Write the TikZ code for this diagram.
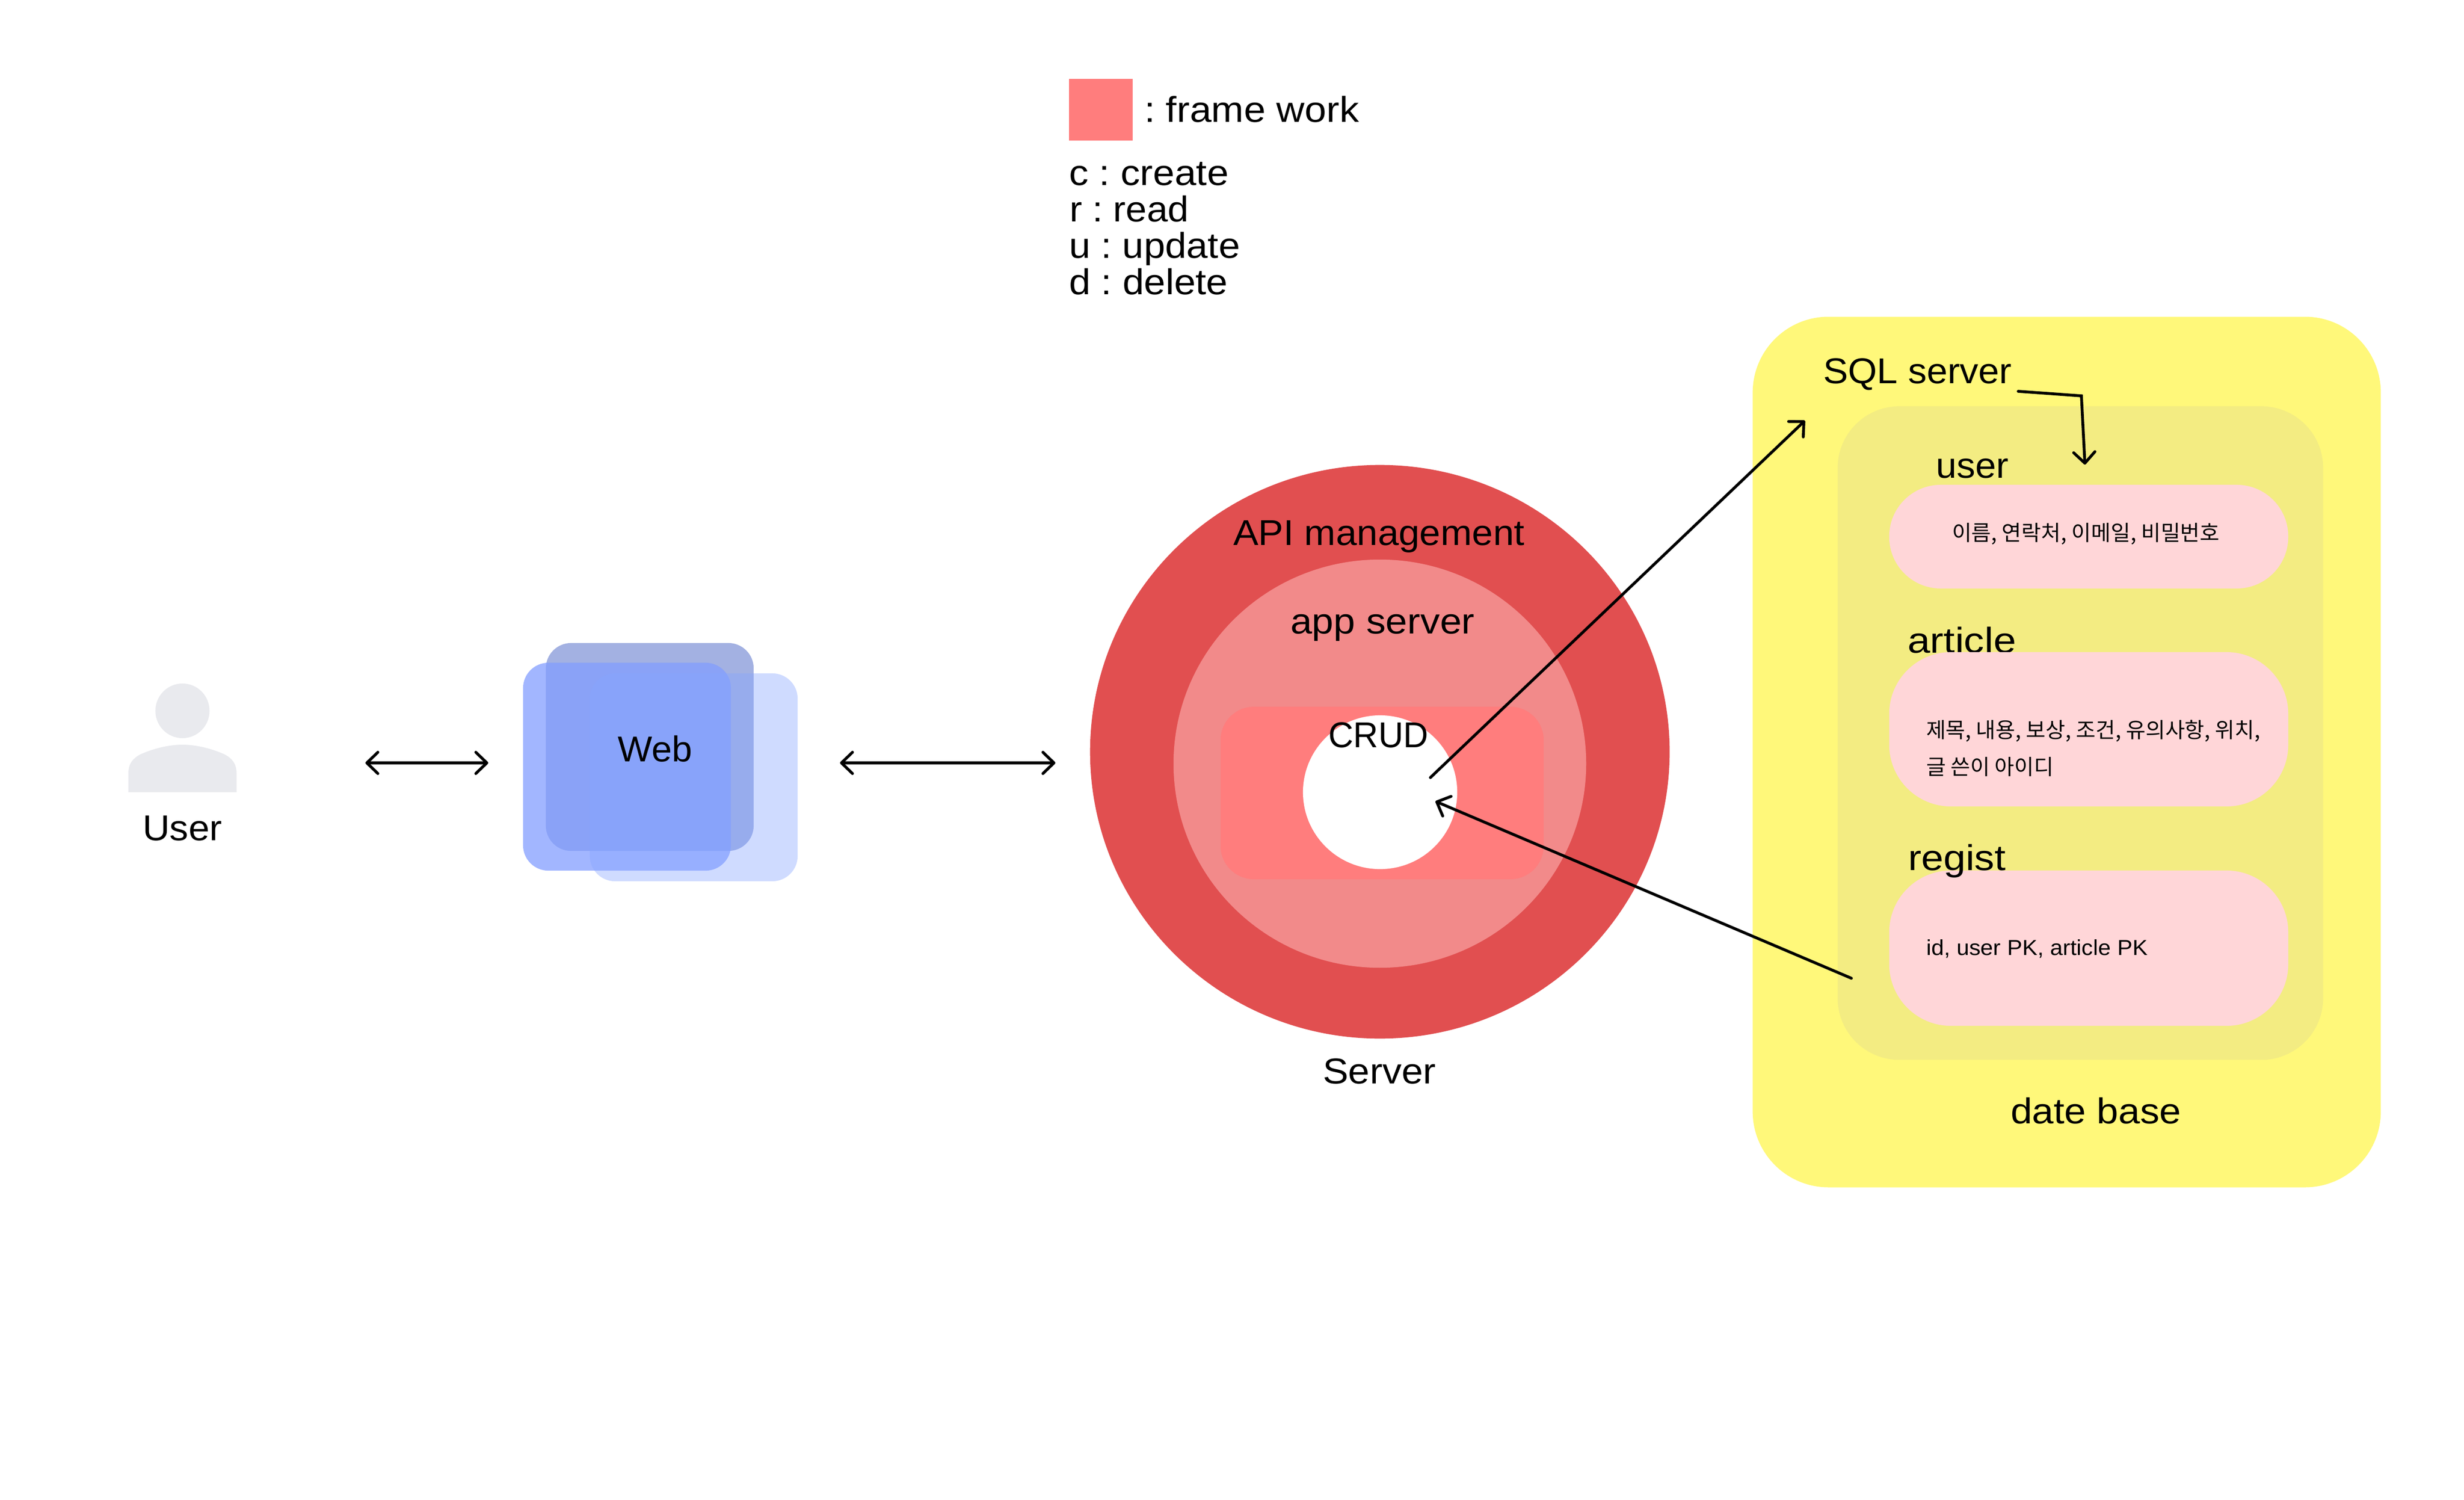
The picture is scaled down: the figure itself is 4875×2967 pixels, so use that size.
\documentclass[tikz,border=0pt]{standalone}
\usepackage{fontspec}
\usepackage{graphicx}
\setmainfont{Liberation Sans}[FakeStretch=1.05]
\newfontfamily\krfont{Noto Sans CJK KR}
\usetikzlibrary{arrows.meta,shapes.geometric}
\definecolor{cyellow}{HTML}{FFF87A}
\definecolor{colive}{HTML}{F3EC82}
\definecolor{cpill}{HTML}{FFD6D8}
\definecolor{couter}{HTML}{E14F50}
\definecolor{cmid}{HTML}{F28A8A}
\definecolor{cframe}{HTML}{FF7D7D}
\definecolor{cperson}{HTML}{E9EAEE}
\definecolor{cback}{RGB}{163,177,226}
\definecolor{cleft}{RGB}{130,157,255}
\definecolor{cright}{RGB}{135,165,255}
\newcommand{\xs}[2]{\scalebox{#1}[1]{#2}}
\tikzset{
  x=0.01cm,y=-0.01cm,
  shapebox/.style={draw=none,inner sep=0pt,outer sep=0pt,anchor=center},
  webcard/.style={shapebox,minimum width=4.11cm,minimum height=4.11cm,rounded corners=0.5cm},
  dbpill/.style={shapebox,fill=cpill,minimum width=7.89cm},
  disc/.style={shapebox,ellipse},
  lbl/.style={anchor=base west,inner sep=0pt,outer sep=0pt,text=black,font=\frenchspacing\fontsize{20.2}{24}\selectfont},
  small/.style={anchor=base west,inner sep=0pt,outer sep=0pt,text=black,font=\frenchspacing\krfont\fontsize{12}{14}\selectfont},
  smalllat/.style={anchor=base west,inner sep=0pt,outer sep=0pt,text=black,font=\frenchspacing\fontsize{12.2}{14}\selectfont},
  link/.style={draw=black,line width=1.6pt,line cap=round,line join=miter},
  tipend/.style={-{Straight Barb[length=6.2pt,width=12pt,round]}},
  tipboth/.style={{Straight Barb[length=6.2pt,width=12pt,round]}-{Straight Barb[length=6.2pt,width=12pt,round]}},
}
\begin{document}
\begin{tikzpicture}
\useasboundingbox (0,0) rectangle (4875,2967);
\fill[white] (0,0) rectangle (4875,2967);

% legend
\node[shapebox,fill=cframe,minimum width=1.26cm,minimum height=1.22cm] (legendbox) at (2178,217) {};
\node[lbl] (legendframe) at (2264,242) {\xs{1.035}{: frame work}};
\node[lbl] (legendc) at (2115,367) {\xs{1.03}{c : create}};
\node[lbl] (legendr) at (2116,439) {\xs{1.0}{r : read}};
\node[lbl] (legendu) at (2115,511) {\xs{1.02}{u : update}};
\node[lbl] (legendd) at (2115,582) {\xs{1.025}{d : delete}};

% user
\node[shapebox,disc,fill=cperson,minimum width=1.07cm,minimum height=1.08cm] (userhead) at (361,1406) {};
\fill[cperson] (254,1567) -- (254,1530) .. controls (254,1510) and (263,1500) .. (278,1492)
  .. controls (305,1480) and (335,1473) .. (361,1473)
  .. controls (387,1473) and (417,1480) .. (444,1492)
  .. controls (459,1500) and (468,1510) .. (468,1530) -- (468,1567) -- cycle;
\node[lbl] (userlabel) at (282,1662) {User};

% web
\node[webcard,fill=cback] (webback) at (1285.5,1477.5) {};
\node[webcard,fill=cleft,fill opacity=.74] (webleft) at (1240.5,1516.5) {};
\node[webcard,fill=cright,fill opacity=.4] (webright) at (1372.5,1537.5) {};
\node[lbl] (weblabel) at (1222,1506) {\xs{0.97}{Web}};

% server
\node[shapebox,disc,fill=couter,minimum width=11.46cm,minimum height=11.34cm] (outer) at (2730,1487) {};
\node[shapebox,disc,fill=cmid,minimum width=8.16cm,minimum height=8.07cm] (mid) at (2730,1510.5) {};
\node[shapebox,fill=cframe,minimum width=6.39cm,minimum height=3.41cm,rounded corners=0.66cm] (frame) at (2734.5,1568.5) {};
\node[shapebox,disc,fill=white,minimum width=3.05cm,minimum height=3.04cm] (hole) at (2730.5,1567) {};
\node[lbl] (apilabel) at (2440,1078) {\xs{1.0}{API management}};
\node[lbl] (applabel) at (2553,1253) {\xs{1.035}{app server}};
\node[lbl] (crudlabel) at (2628,1478) {\xs{0.92}{CRUD}};
\node[lbl] (serverlabel) at (2617,2143) {\xs{1.02}{Server}};

% database
\node[shapebox,fill=cyellow,minimum width=12.42cm,minimum height=17.21cm,rounded corners=1.5cm] (db) at (4089,1487.5) {};
\node[shapebox,fill=colive,minimum width=9.6cm,minimum height=12.92cm,rounded corners=1.22cm] (sqlbox) at (4116,1450) {};
\node[lbl] (articledb) at (3774,1291) {\xs{1.08}{article}};
\node[dbpill,minimum height=2.05cm,rounded corners=1.02cm] (userpill) at (4132.5,1061.5) {};
\node[dbpill,minimum height=3.05cm,rounded corners=1.22cm] (articlepill) at (4132.5,1442.5) {};
\node[dbpill,minimum height=3.07cm,rounded corners=1.22cm] (registpill) at (4132.5,1875.5) {};
\node[lbl] (sqllabel) at (3607,758) {\xs{0.99}{SQL server}};
\node[lbl] (userdb) at (3830,945) {\xs{0.99}{user}};
\node[lbl] (registdb) at (3775,1721) {\xs{1.06}{regist}};
\node[lbl] (datelabel) at (3978,2222) {\xs{1.03}{date base}};
\node[small] (usertext) at (3862,1069) {이름, 연락처, 이메일, 비밀번호};
\node[small] (articletexta) at (3811,1459) {제목, 내용, 보상, 조건, 유의사항, 위치,};
\node[small] (articletextb) at (3811,1532) {글 쓴이 아이디};
\node[smalllat] (registtext) at (3811,1889) {id, user PK, article PK};

% connectors
\coordinate (ua) at (723,1509);
\coordinate (ub) at (966,1509);
\coordinate (wa) at (1662,1509);
\coordinate (wb) at (2088,1509);
\coordinate (crudout) at (2830,1538);
\coordinate (sqlin) at (3571,832);
\coordinate (dbout) at (3663,1935);
\coordinate (crudin) at (2840,1585);
\coordinate (sqlout) at (3993,774);
\coordinate (sqlbend) at (4118,783);
\coordinate (sqlend) at (4125,919);
\draw[link,tipboth] (ua) -- (ub);
\draw[link,tipboth] (wa) -- (wb);
\draw[link,tipend] (crudout) -- (sqlin);
\draw[link,tipend] (dbout) -- (crudin);
\draw[link,tipend] (sqlout) -- (sqlbend) -- (sqlend);
\end{tikzpicture}
\end{document}
